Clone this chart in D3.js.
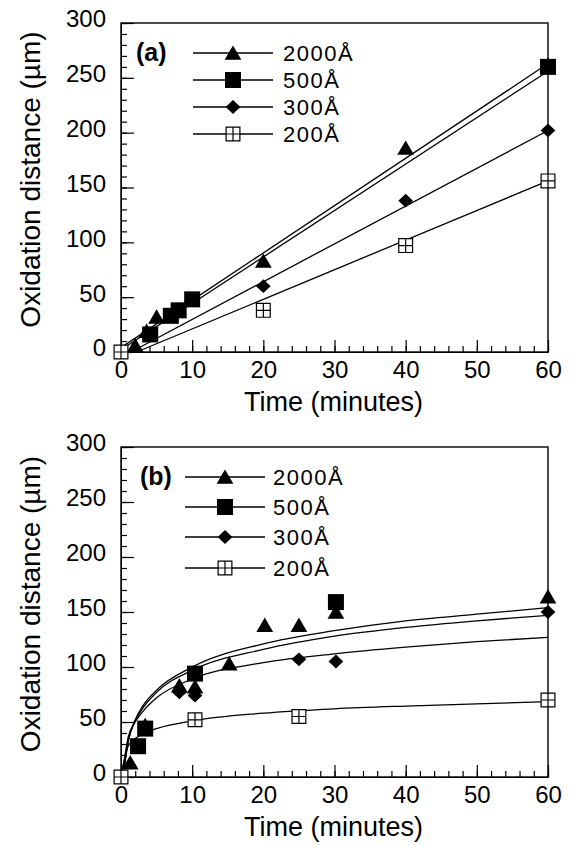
<!DOCTYPE html>
<html>
<head>
<meta charset="utf-8">
<script src="https://cdn.jsdelivr.net/npm/d3@7"></script>
<style>
  body { margin: 0; background: #fff; }
  svg { display: block; }
</style>
</head>
<body>
<div id="chart"></div>
<script>
const seriesNames = ["2000Å", "500Å", "300Å", "200Å"];
const markerTypes = ["triangle", "square", "diamond", "openSquare"];
const xTicks = [0, 10, 20, 30, 40, 50, 60];
const yTicks = [0, 50, 100, 150, 200, 250, 300];

// panel (a) - measured points, [minutes, um]
const ptsA2000 = [[2, 6], [3.6, 19], [5, 32], [20, 83], [40, 186], [60, 262]];
const ptsA500 = [[4.1, 16], [7, 33], [8.1, 38], [10, 48], [60, 260]];
const ptsA300 = [[20, 60], [40, 138], [60, 202]];
const ptsA200 = [[0, 0], [20, 38], [40, 97], [60, 156]];
// panel (a) - linear fits
const fitA2000 = [[0, 4], [60, 263]];
const fitA500 = [[0, 2], [60, 256]];
const fitA300 = [[1.4, 0], [60, 202]];
const fitA200 = [[2.2, 0], [60, 156]];

// panel (b) - measured points
const ptsB2000 = [[1.3, 13], [3.4, 47], [8.2, 83], [10.4, 82], [15.2, 103], [20.2, 138], [25, 138], [30.2, 150], [60, 164]];
const ptsB500 = [[2.4, 28], [3.4, 44], [10.4, 94], [30.2, 159]];
const ptsB300 = [[8.2, 77], [10.4, 74], [25, 107], [30.2, 105], [60, 150]];
const ptsB200 = [[0, 0], [10.4, 52], [25, 55], [60, 70]];
// panel (b) - fitted curves
const fitB2000 = [[0.5, 10], [1, 31], [2, 52], [3, 64], [5, 79], [10, 100], [20, 121], [30, 133], [40, 142], [50, 148], [60, 154]];
const fitB500 = [[0.4, 7], [1, 33], [2, 51], [3, 62], [5, 77], [10, 97], [20, 116], [30, 128], [40, 136], [50, 142], [60, 147]];
const fitB300 = [[0.3, 8], [1, 36], [2, 50], [3, 59], [5, 72], [10, 89], [20, 104], [30, 112], [40, 118], [50, 123], [60, 127]];
const fitB200 = [[0.1, 5], [1, 28], [2, 35], [3, 39], [5, 44], [10, 51], [20, 58], [30, 62], [40, 64.5], [50, 66.5], [60, 68.5]];

const width = 574, height = 846;
const font = '"Liberation Sans", Arial, Helvetica, sans-serif';

const svg = d3.select("#chart").append("svg")
  .attr("width", width)
  .attr("height", height);

function drawMarker(g, type, cx, cy, s) {
  const h = s / 2;
  if (type === "triangle") {
    g.append("path")
      .attr("d", `M${cx},${cy - h * 0.95}L${cx + h * 1.05},${cy + h * 0.85}L${cx - h * 1.05},${cy + h * 0.85}Z`)
      .attr("fill", "#000");
  } else if (type === "square") {
    g.append("rect")
      .attr("x", cx - h).attr("y", cy - h)
      .attr("width", s).attr("height", s)
      .attr("fill", "#000");
  } else if (type === "diamond") {
    const w = h * 0.98, hh = h * 0.92;
    g.append("path")
      .attr("d", `M${cx},${cy - hh}L${cx + w},${cy}L${cx},${cy + hh}L${cx - w},${cy}Z`)
      .attr("fill", "#000");
  } else {
    const q = h - 0.6;
    g.append("path")
      .attr("d", `M${cx - q},${cy - q}H${cx + q}V${cy + q}H${cx - q}Z M${cx},${cy - q}V${cy + q} M${cx - q},${cy}H${cx + q}`)
      .attr("fill", "#fff")
      .attr("stroke", "#000")
      .attr("stroke-width", 1.2);
  }
}

function drawPanel(cfg) {
  const x = d3.scaleLinear().domain([0, 60]).range([121, 548]);
  const y = d3.scaleLinear().domain([0, 300]).range([cfg.bottom, cfg.top]);
  const g = svg.append("g");

  // minor ticks (inside)
  g.append("g")
    .attr("transform", `translate(0,${cfg.bottom})`)
    .call(d3.axisBottom(x).tickValues(x.ticks(30)).tickSize(-6).tickFormat(""))
    .call(a => a.select(".domain").remove());
  g.append("g")
    .attr("transform", `translate(121,0)`)
    .call(d3.axisLeft(y).tickValues(y.ticks(30)).tickSize(-6).tickFormat(""))
    .call(a => a.select(".domain").remove());

  // major ticks + labels
  const xa = g.append("g")
    .attr("transform", `translate(0,${cfg.bottom})`)
    .call(d3.axisBottom(x).tickValues(xTicks).tickSize(-12).tickPadding(9).tickSizeOuter(0));
  const ya = g.append("g")
    .attr("transform", `translate(121,0)`)
    .call(d3.axisLeft(y).tickValues(yTicks).tickSize(-13).tickPadding(15).tickSizeOuter(0));
  [xa, ya].forEach(a => {
    a.attr("font-family", font).attr("font-size", 24);
    a.selectAll("text").attr("fill", "#000");
  });
  ya.selectAll("text").attr("dy", "0.16em");
  g.selectAll(".tick line").attr("stroke", "#000").attr("stroke-width", 1.2);

  // frame
  g.append("rect")
    .attr("x", x(0)).attr("y", y(300))
    .attr("width", x(60) - x(0)).attr("height", y(0) - y(300))
    .attr("fill", "none").attr("stroke", "#000").attr("stroke-width", 1.4);

  // axis titles
  g.append("text")
    .attr("x", (x(0) + x(60)) / 2 - 1)
    .attr("y", cfg.bottom + 59)
    .attr("text-anchor", "middle")
    .attr("font-family", font).attr("font-size", 27)
    .text("Time (minutes)");
  g.append("text")
    .attr("transform", `translate(40,${(cfg.top + cfg.bottom) / 2 - 8}) rotate(-90)`)
    .attr("text-anchor", "middle")
    .attr("font-family", font).attr("font-size", 28)
    .text("Oxidation distance (µm)");

  // fits
  const line = d3.line()
    .x(d => x(d[0]))
    .y(d => y(d[1]))
    .curve(d3.curveMonotoneX);
  cfg.fits.forEach(f => {
    g.append("path")
      .attr("d", line(f))
      .attr("fill", "none")
      .attr("stroke", "#000")
      .attr("stroke-width", 1.3);
  });

  // points
  cfg.points.forEach((pts, i) => {
    pts.forEach(p => drawMarker(g, markerTypes[i], x(p[0]), y(p[1]), cfg.msize[i]));
  });

  // legend
  g.append("text")
    .attr("x", cfg.leg.tagX).attr("y", cfg.leg.rows[0] + 8)
    .attr("font-family", font).attr("font-size", 25).attr("font-weight", "bold")
    .text(cfg.tag);
  seriesNames.forEach((name, i) => {
    const ry = cfg.leg.rows[i];
    g.append("line")
      .attr("x1", cfg.leg.x1).attr("x2", cfg.leg.x2)
      .attr("y1", ry).attr("y2", ry)
      .attr("stroke", "#000").attr("stroke-width", 1.3);
    drawMarker(g, markerTypes[i], (cfg.leg.x1 + cfg.leg.x2) / 2, ry, cfg.msize[i]);
    g.append("text")
      .attr("x", cfg.leg.textX).attr("y", ry + 8)
      .attr("font-family", font).attr("font-size", 22)
      .attr("letter-spacing", 1.5)
      .text(name);
  });
}

drawPanel({
  tag: "(a)", top: 23, bottom: 352,
  points: [ptsA2000, ptsA500, ptsA300, ptsA200],
  fits: [fitA2000, fitA500, fitA300, fitA200],
  msize: [16, 16, 15, 15],
  leg: { tagX: 136, rows: [53, 80, 107, 134], x1: 193, x2: 273, textX: 283 }
});

drawPanel({
  tag: "(b)", top: 447, bottom: 777,
  points: [ptsB2000, ptsB500, ptsB300, ptsB200],
  fits: [fitB2000, fitB500, fitB300, fitB200],
  msize: [16, 16, 15, 15],
  leg: { tagX: 140, rows: [477, 507, 537, 568], x1: 185, x2: 265, textX: 273 }
});
</script>
</body>
</html>
